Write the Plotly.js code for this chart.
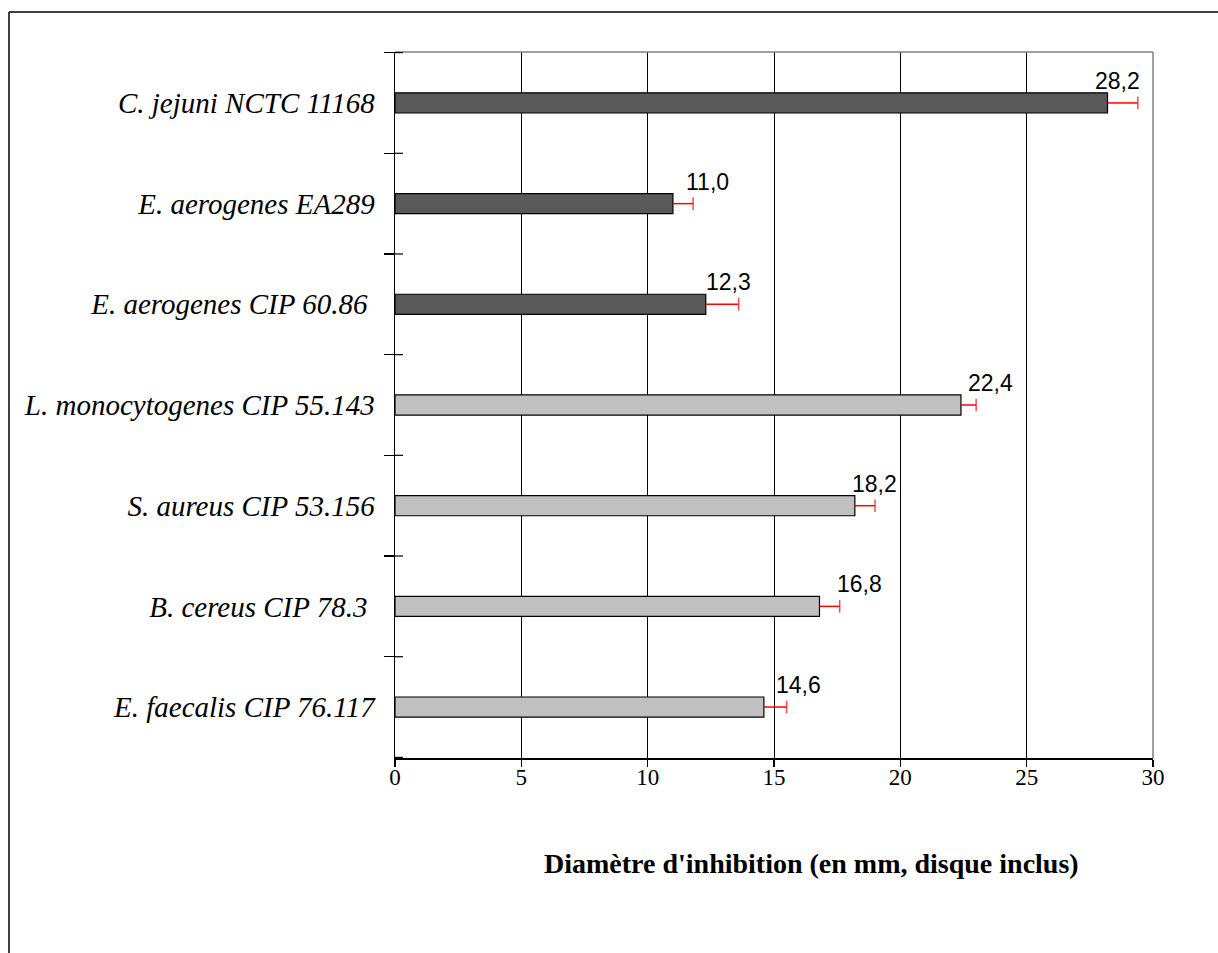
<!DOCTYPE html>
<html>
<head>
<meta charset="utf-8">
<script src="https://cdn.plot.ly/plotly-3.0.1.min.js"></script>
<style>html,body{margin:0;padding:0;background:#fff;}#chart{width:1218px;height:953px;}</style>
</head>
<body>
<div id="chart"></div>
<script>
// Data (top to bottom as shown)
var strains = ["C. jejuni NCTC 11168", "E. aerogenes EA289", "E. aerogenes CIP 60.86\u00a0", "L. monocytogenes CIP 55.143", "S. aureus CIP 53.156", "B. cereus CIP 78.3\u00a0", "E. faecalis CIP 76.117"];
var diameters = [28.2, 11.0, 12.3, 22.4, 18.2, 16.8, 14.6];
var errors = [1.2, 0.8, 1.3, 0.6, 0.8, 0.8, 0.9];
var gram = ["neg", "neg", "neg", "pos", "pos", "pos", "pos"];
var xTicks = [0, 5, 10, 15, 20, 25, 30];

// Styling
var groupColors = {neg: "#595959", pos: "#C0C0C0"};
var labelShift = [-15, 11, -2, 5, -5, 16, 10];

var L = 395, R = 65, T = 52, B = 195;
var W = 1218, H = 953;
var pw = W - L - R, ph = H - T - B;
function px(x) { return (x - L) / pw; }
function py(y) { return (H - B - y) / ph; }

var bars = {
  type: "bar", orientation: "h",
  x: diameters, y: strains,
  width: 0.2,
  marker: {color: gram.map(function (g) { return groupColors[g]; }), line: {color: "#000", width: 1.2}},
  hoverinfo: "x+y", showlegend: false
};

var ex = [], ey = [], es = [];
diameters.forEach(function (v, i) {
  ex.push(v, v + errors[i], null);
  ey.push(strains[i], strains[i], null);
  es.push(0, 9, 0);
});
var errTrace = {
  type: "scatter", mode: "lines+markers",
  x: ex, y: ey,
  line: {color: "#FF0000", width: 1.5},
  marker: {symbol: "line-ns", size: es, color: "#FF0000", line: {color: "#FF0000", width: 1.5}},
  hoverinfo: "skip", showlegend: false
};

var annotations = diameters.map(function (v, i) {
  return {
    x: v, y: strains[i], xref: "x", yref: "y",
    text: v.toFixed(1).replace(".", ","),
    showarrow: false, xanchor: "left", yanchor: "middle",
    xshift: labelShift[i], yshift: 22,
    font: {family: "Liberation Sans, Arial, sans-serif", size: 23, color: "#000"}
  };
});
annotations.push({
  x: px(811), y: py(863), xref: "paper", yref: "paper",
  text: "<b>Diamètre d'inhibition (en mm, disque inclus)</b>",
  showarrow: false, xanchor: "center", yanchor: "middle",
  font: {family: "Liberation Serif, Times New Roman, serif", size: 28, color: "#000"}
});

var shapes = [
  // outer frame (left + top)
  {type: "line", xref: "paper", yref: "paper", x0: px(9), x1: px(9), y0: py(12), y1: py(970), line: {color: "#000", width: 1.5}},
  {type: "line", xref: "paper", yref: "paper", x0: px(9), x1: px(1230), y0: py(12), y1: py(12), line: {color: "#000", width: 1.5}},
  // plot area border (top + right), grey
  {type: "line", xref: "paper", yref: "paper", x0: 0, x1: 1, y0: 1, y1: 1, line: {color: "#808080", width: 1.5}},
  {type: "line", xref: "paper", yref: "paper", x0: 1, x1: 1, y0: 0, y1: 1, line: {color: "#808080", width: 1.5}}
];
for (var k = 0; k <= strains.length; k++) {
  shapes.push({type: "line", xref: "paper", yref: "y", x0: 0, x1: 8 / pw, y0: k - 0.5, y1: k - 0.5, line: {color: "#000", width: 1.2}});
}

var layout = {
  width: W, height: H,
  margin: {l: L, r: R, t: T, b: B, pad: 0},
  paper_bgcolor: "#fff", plot_bgcolor: "#fff",
  xaxis: {
    range: [0, 30], tickvals: xTicks, ticktext: xTicks.map(String),
    showgrid: true, gridcolor: "#000", gridwidth: 1,
    zeroline: false, showline: true, linecolor: "#000", linewidth: 2,
    ticks: "outside", ticklen: 7, tickcolor: "#000", tickwidth: 1.2,
    ticklabelstandoff: -10,
    tickfont: {family: "Liberation Serif, Times New Roman, serif", size: 23, color: "#000"},
    fixedrange: true
  },
  yaxis: {
    type: "category", autorange: "reversed",
    showgrid: false, zeroline: false, showline: true, linecolor: "#000", linewidth: 1.5,
    ticks: "outside", tickson: "boundaries", ticklen: 10, tickcolor: "#000", tickwidth: 1.2,
    ticklabelstandoff: 13,
    tickfont: {family: "Liberation Serif, Times New Roman, serif", size: 29, color: "#000", style: "italic"},
    fixedrange: true
  },
  annotations: annotations,
  shapes: shapes,
  showlegend: false,
  bargap: 0.8
};

Plotly.newPlot("chart", [bars, errTrace], layout, {displayModeBar: false, staticPlot: true});
</script>
</body>
</html>
